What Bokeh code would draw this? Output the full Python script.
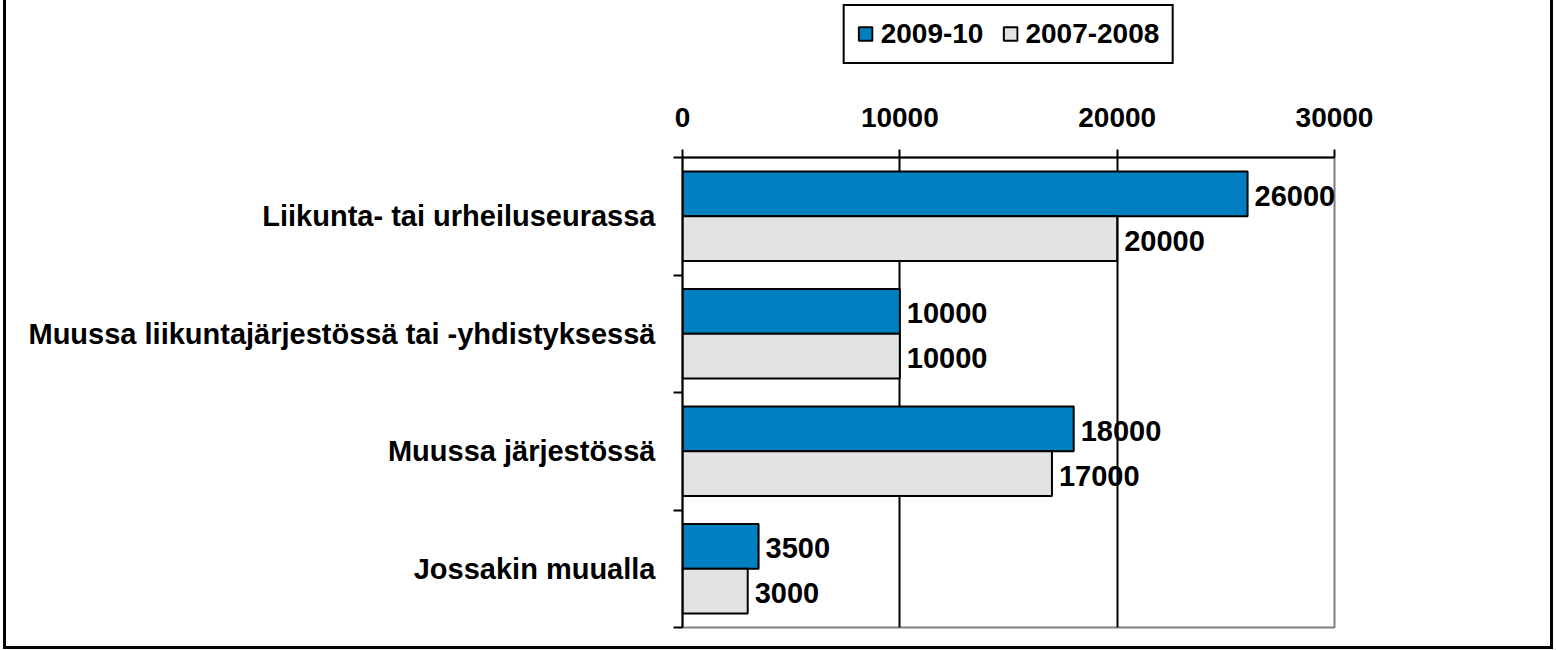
from bokeh.plotting import figure
from bokeh.layouts import column
from bokeh.models import (Range1d, FixedTicker, Legend, LegendItem, ColumnDataSource)
from bokeh.transform import dodge
from bokeh.core.properties import value
from bokeh.embed import file_html
from bokeh.resources import INLINE

categories = ["Liikunta- tai urheiluseurassa",
              "Muussa liikuntajärjestössä tai -yhdistyksessä",
              "Muussa järjestössä",
              "Jossakin muualla"]
series_names = ["2009-10", "2007-2008"]
values_2009 = [26000, 10000, 18000, 3500]
values_2007 = [20000, 10000, 17000, 3000]
x_ticks = [0, 10000, 20000, 30000]

FONT = "Liberation Sans"
BLUE = "#0080C0"
GRAY = "#E3E3E3"
W = 1544
LEG_H = 70
BL, BR = 676, 214

idx = list(range(len(categories)))
src = ColumnDataSource(dict(
    y=idx,
    v1=values_2009, v2=values_2007,
    l1=[str(v) for v in values_2009],
    l2=[str(v) for v in values_2007],
))

# ---- main chart ----
p = figure(width=W, height=646 - LEG_H,
           x_range=Range1d(0, 30000), y_range=Range1d(len(categories) - 0.5, -0.5),
           x_axis_location="above",
           output_backend="svg", toolbar_location=None,
           min_border_left=BL, min_border_right=BR,
           min_border_top=157 - LEG_H, min_border_bottom=19)

p.outline_line_color = "#808080"
p.outline_line_width = 2

BH = 0.38
bar_style = dict(line_color="black", line_width=2)
r1 = p.hbar(y=dodge("y", -0.19, range=p.y_range), right="v1", left=0, height=BH,
            fill_color=BLUE, source=src, **bar_style)
r2 = p.hbar(y=dodge("y", 0.19, range=p.y_range), right="v2", left=0, height=BH,
            fill_color=GRAY, source=src, **bar_style)

for col, lab, off in (("v1", "l1", -0.19), ("v2", "l2", 0.19)):
    p.text(x=col, y=dodge("y", off, range=p.y_range), text=lab, source=src,
           x_offset=7, y_offset=2, text_baseline="middle", text_align="left",
           text_font=value(FONT), text_font_style="bold",
           text_font_size="29px", text_color="black")

xa = p.xaxis[0]
xa.ticker = FixedTicker(ticks=x_ticks)
xa.axis_line_color = "black"
xa.axis_line_width = 2
xa.major_tick_out = 8
xa.major_tick_in = 0
xa.major_tick_line_width = 2
xa.minor_tick_out = 0
xa.minor_tick_in = 0
xa.major_label_text_font = FONT
xa.major_label_text_font_style = "bold"
xa.major_label_text_font_size = "28px"
xa.major_label_text_color = "black"
xa.major_label_standoff = 23

ya = p.yaxis[0]
ya.ticker = FixedTicker(ticks=idx, minor_ticks=[i - 0.5 for i in range(len(categories) + 1)])
ya.major_label_overrides = {i: c for i, c in zip(idx, categories)}
ya.axis_line_color = "black"
ya.axis_line_width = 2
ya.major_tick_out = 0
ya.major_tick_in = 0
ya.minor_tick_out = 9
ya.minor_tick_in = 0
ya.minor_tick_line_color = "black"
ya.minor_tick_line_width = 2
ya.major_label_text_font = FONT
ya.major_label_text_font_style = "bold"
ya.major_label_text_font_size = "29px"
ya.major_label_text_color = "black"
ya.major_label_standoff = 18

p.xgrid.ticker = FixedTicker(ticks=x_ticks[1:-1])
p.xgrid.grid_line_color = "black"
p.xgrid.grid_line_width = 2
p.ygrid.grid_line_color = None

# ---- legend strip ----
pl = figure(width=W, height=LEG_H, x_range=Range1d(0, 1), y_range=Range1d(0, 1),
            x_axis_location=None, y_axis_location=None,
            output_backend="svg", toolbar_location=None,
            min_border_left=BL - 2, min_border_right=BR + 2,
            min_border_top=0, min_border_bottom=3)
pl.outline_line_color = None
pl.grid.visible = False
lr1 = pl.hbar(y=[0.5], right=[0], left=0, height=0, fill_color=BLUE, **bar_style)
lr2 = pl.hbar(y=[0.5], right=[0], left=0, height=0, fill_color=GRAY, **bar_style)

legend = Legend(items=[LegendItem(label=series_names[0], renderers=[lr1]),
                       LegendItem(label=series_names[1], renderers=[lr2])],
                location="center", orientation="horizontal",
                border_line_color="black", border_line_width=2, border_line_alpha=1.0,
                background_fill_color="white", background_fill_alpha=1,
                label_text_font=FONT, label_text_font_style="bold",
                label_text_font_size="28px", label_text_color="black",
                glyph_width=17, glyph_height=17, label_standoff=7,
                spacing=18, padding=12, margin=0)
pl.add_layout(legend, "center")

layout = column(pl, p, spacing=0)
layout.styles = {"margin-left": "3px",
                 "border-left": "3px solid black",
                 "border-right": "3px solid black",
                 "border-bottom": "3px solid black"}

open("out.html", "w").write(file_html(layout, INLINE))
